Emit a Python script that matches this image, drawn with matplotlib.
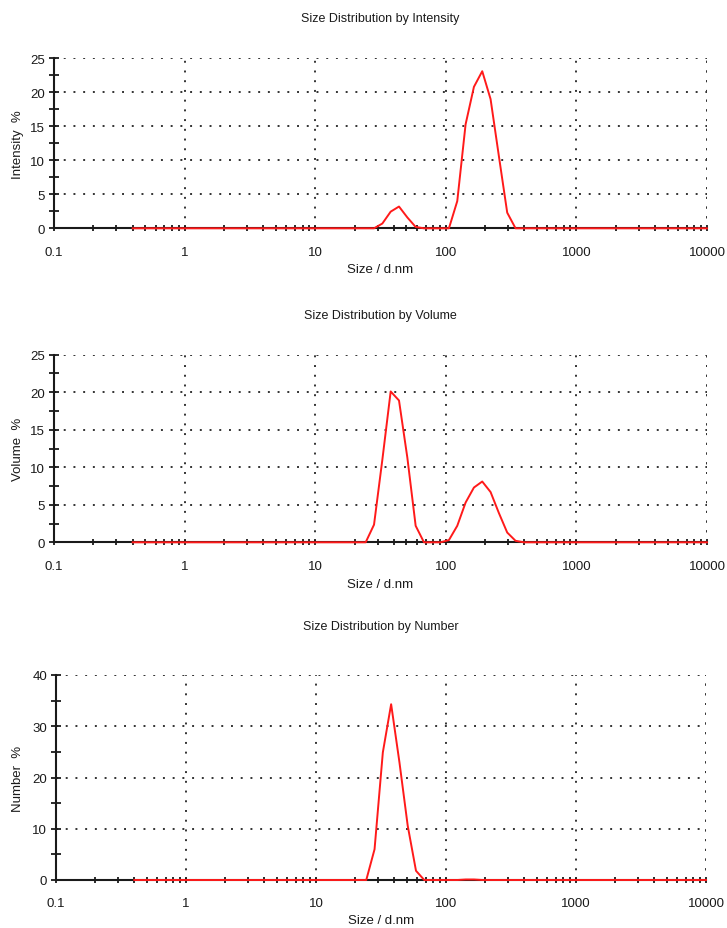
import numpy as np
import matplotlib
matplotlib.use("Agg")
import matplotlib.pyplot as plt
from matplotlib.ticker import FixedLocator, LogLocator, NullFormatter

plt.rcParams['font.family'] = ['Liberation Sans', 'DejaVu Sans']

# Dados (tamanho em d.nm, valores em %)
int_size = [0.4, 28.21, 32.67, 37.84, 43.82, 50.75, 58.77, 68.06, 91.28, 105.7,
            122.4, 141.8, 164.2, 190.1, 220.2, 255.0, 295.3, 342.0, 10000]
int_val = [0, 0, 0.7, 2.45, 3.2, 1.6, 0.2, 0, 0, 0,
           4.0, 15.3, 20.8, 23.1, 19.0, 10.6, 2.3, 0, 0]

vol_size = [0.4, 24.36, 28.21, 32.67, 37.84, 43.82, 50.75, 58.77, 68.06, 91.28,
            105.7, 122.4, 141.8, 164.2, 190.1, 220.2, 255.0, 295.3, 342.0, 396.1, 10000]
vol_val = [0, 0, 2.35, 11.0, 20.1, 18.9, 11.3, 2.2, 0, 0,
           0.3, 2.2, 5.3, 7.3, 8.1, 6.7, 3.9, 1.3, 0.2, 0, 0]

num_size = [0.4, 24.36, 28.21, 32.67, 37.84, 43.82, 50.75, 58.77, 68.06,
            122.4, 141.8, 164.2, 190.1, 10000]
num_val = [0, 0, 6.0, 24.9, 34.3, 23.0, 10.6, 1.8, 0,
           0, 0.1, 0.1, 0, 0]

x_ticks = [0.1, 1, 10, 100, 1000, 10000]
x_labels = ['0.1', '1', '10', '100', '1000', '10000']

W, H = 727, 929
fig = plt.figure(figsize=(W / 100, H / 100), dpi=100)


def painel(rect, x, y, ymax, ystep, titulo, ylabel, title_y, xlabel_y):
    # rect em pixels: esquerda, topo, direita, base
    l, t, r, b = rect
    ax = fig.add_axes([l / W, 1 - b / H, (r - l) / W, (b - t) / H])
    ax.set_xscale('log')
    ax.set_xlim(0.1, 10000)
    ax.set_ylim(0, ymax)

    ax.xaxis.set_major_locator(FixedLocator(x_ticks))
    ax.set_xticklabels(x_labels)
    ax.xaxis.set_minor_locator(LogLocator(base=10, subs=np.arange(2, 10)))
    ax.xaxis.set_minor_formatter(NullFormatter())
    ax.set_yticks(np.arange(0, ymax + 1, ystep))
    ax.set_yticks(np.arange(ystep / 2, ymax, ystep), minor=True)

    for s in ['top', 'right']:
        ax.spines[s].set_visible(False)
    for s in ['left', 'bottom']:
        ax.spines[s].set_linewidth(1.5)
        ax.spines[s].set_color('#1a1a1a')

    ax.tick_params(axis='both', which='both', direction='inout', color='#1a1a1a',
                   width=1.3, labelsize=9.5, labelcolor='#1a1a1a')
    ax.tick_params(axis='x', which='both', length=5, pad=10)
    ax.tick_params(axis='y', which='both', length=7, pad=3)

    ax.grid(True, which='major', linestyle=(0, (1, 4)), color='#333333', linewidth=1.4)
    ax.axvline(10000, linestyle=(0, (1, 4)), color='#333333', linewidth=1.4)

    ax.plot(x, y, color='#ff1a1a', linewidth=1.4, zorder=5, clip_on=False)

    fig.text((l + r) / 2 / W, 1 - title_y / H, titulo, ha='center', va='center',
             fontsize=9, color='#1a1a1a')
    fig.text((l + r) / 2 / W, 1 - xlabel_y / H, 'Size / d.nm', ha='center', va='center',
             fontsize=9.5, color='#1a1a1a')
    fig.text(18 / W, 1 - (t + b) / 2 / H, ylabel, ha='center', va='center',
             rotation=90, fontsize=9.5, color='#1a1a1a')
    return ax


painel((54, 59.3, 707, 229.3), int_size, int_val, 25, 5,
       'Size Distribution by Intensity', 'Intensity  %', 19, 270)
painel((54, 355.7, 707, 543.3), vol_size, vol_val, 25, 5,
       'Size Distribution by Volume', 'Volume  %', 316, 585)
painel((56, 676, 706, 881), num_size, num_val, 40, 10,
       'Size Distribution by Number', 'Number  %', 627, 921)

fig.savefig('out.png', dpi=100)
